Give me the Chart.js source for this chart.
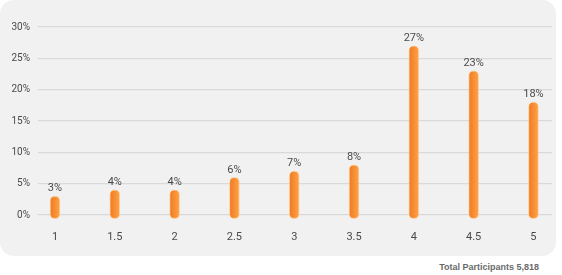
<!DOCTYPE html>
<html>
<head>
<meta charset="utf-8">
<script src="https://cdn.jsdelivr.net/npm/chart.js@4.4.1/dist/chart.umd.min.js"></script>
<style>
  html, body { margin: 0; padding: 0; background: #fff; }
  body { width: 562px; height: 275px; position: relative; overflow: hidden; }
  #panel {
    position: absolute; left: 0; top: 0; width: 556px; height: 256px;
    background: #f1f1f1; border-radius: 14px;
  }
  #total {
    position: absolute; right: 23px; top: 262px;
    font: bold 9px "Liberation Sans", Arial, sans-serif; color: #6a6a6a;
  }
</style>
</head>
<body>
<div id="panel"><canvas id="myChart" width="556" height="256"></canvas></div>
<div id="total">Total Participants 5,818</div>
<script>
// Datos del gráfico
const categories = ['1', '1.5', '2', '2.5', '3', '3.5', '4', '4.5', '5'];
const percentages = [3, 4, 4, 6, 7, 8, 27, 23, 18];
const yTicks = [0, 5, 10, 15, 20, 25, 30];

const xValues = categories.map(Number);

// Etiquetas encima de cada barra
const barLabels = {
    id: 'barLabels',
    afterDatasetsDraw(chart) {
        const ctx = chart.ctx;
        const meta = chart.getDatasetMeta(0);
        ctx.save();
        ctx.font = '11px Roboto, sans-serif';
        ctx.fillStyle = '#4a4a4a';
        ctx.textAlign = 'center';
        ctx.textBaseline = 'bottom';
        meta.data.forEach((bar, i) => {
            ctx.fillText(percentages[i] + '%', bar.x, bar.y - 2);
        });
        ctx.restore();
    }
};

const ctx = document.getElementById('myChart').getContext('2d');
const myChart = new Chart(ctx, {
    type: 'bar',
    data: {
        datasets: [{
            data: xValues.map((x, i) => ({ x: x, y: percentages[i] })),
            backgroundColor: (c) => {
                const chart = c.chart;
                if (!chart.chartArea || c.dataIndex === undefined) return '#f78c32';
                const x = chart.scales.x.getPixelForValue(xValues[c.dataIndex]);
                const g = chart.ctx.createLinearGradient(x - 5, 0, x + 5, 0);
                g.addColorStop(0, '#ef7a22');
                g.addColorStop(1, '#ffa246');
                return g;
            },
            borderColor: 'rgba(255, 196, 130, 0.7)',
            borderWidth: 1,
            borderSkipped: false,
            borderRadius: 5,
            barThickness: 10,
            base: -0.6,
            clip: false
        }]
    },
    options: {
        responsive: false,
        animation: false,
        layout: { padding: { top: 27, right: 4, left: 0, bottom: 0 } },
        plugins: {
            legend: { display: false },
            tooltip: { enabled: false }
        },
        scales: {
            x: {
                type: 'linear',
                offset: false,
                min: 0.858,
                max: 5.155,
                afterBuildTicks: (scale) => { scale.ticks = xValues.map(v => ({ value: v })); },
                afterFit: (scale) => { scale.height = 41; },
                grid: { display: false, drawTicks: false },
                border: { display: false },
                ticks: {
                    padding: 16,
                    color: '#4a4a4a',
                    font: { family: 'Roboto', size: 11 },
                    callback: (v) => categories[xValues.indexOf(v)]
                }
            },
            y: {
                min: 0,
                max: 30,
                afterBuildTicks: (scale) => { scale.ticks = yTicks.map(v => ({ value: v })); },
                afterFit: (scale) => { scale.width = 38; },
                grid: { color: '#d9d9d9', lineWidth: 1.2, drawTicks: false },
                border: { display: false },
                ticks: {
                    padding: 8,
                    color: '#4a4a4a',
                    font: { family: 'Roboto', size: 10 },
                    callback: (v) => v + '%'
                }
            }
        }
    },
    plugins: [barLabels]
});
</script>
</body>
</html>
